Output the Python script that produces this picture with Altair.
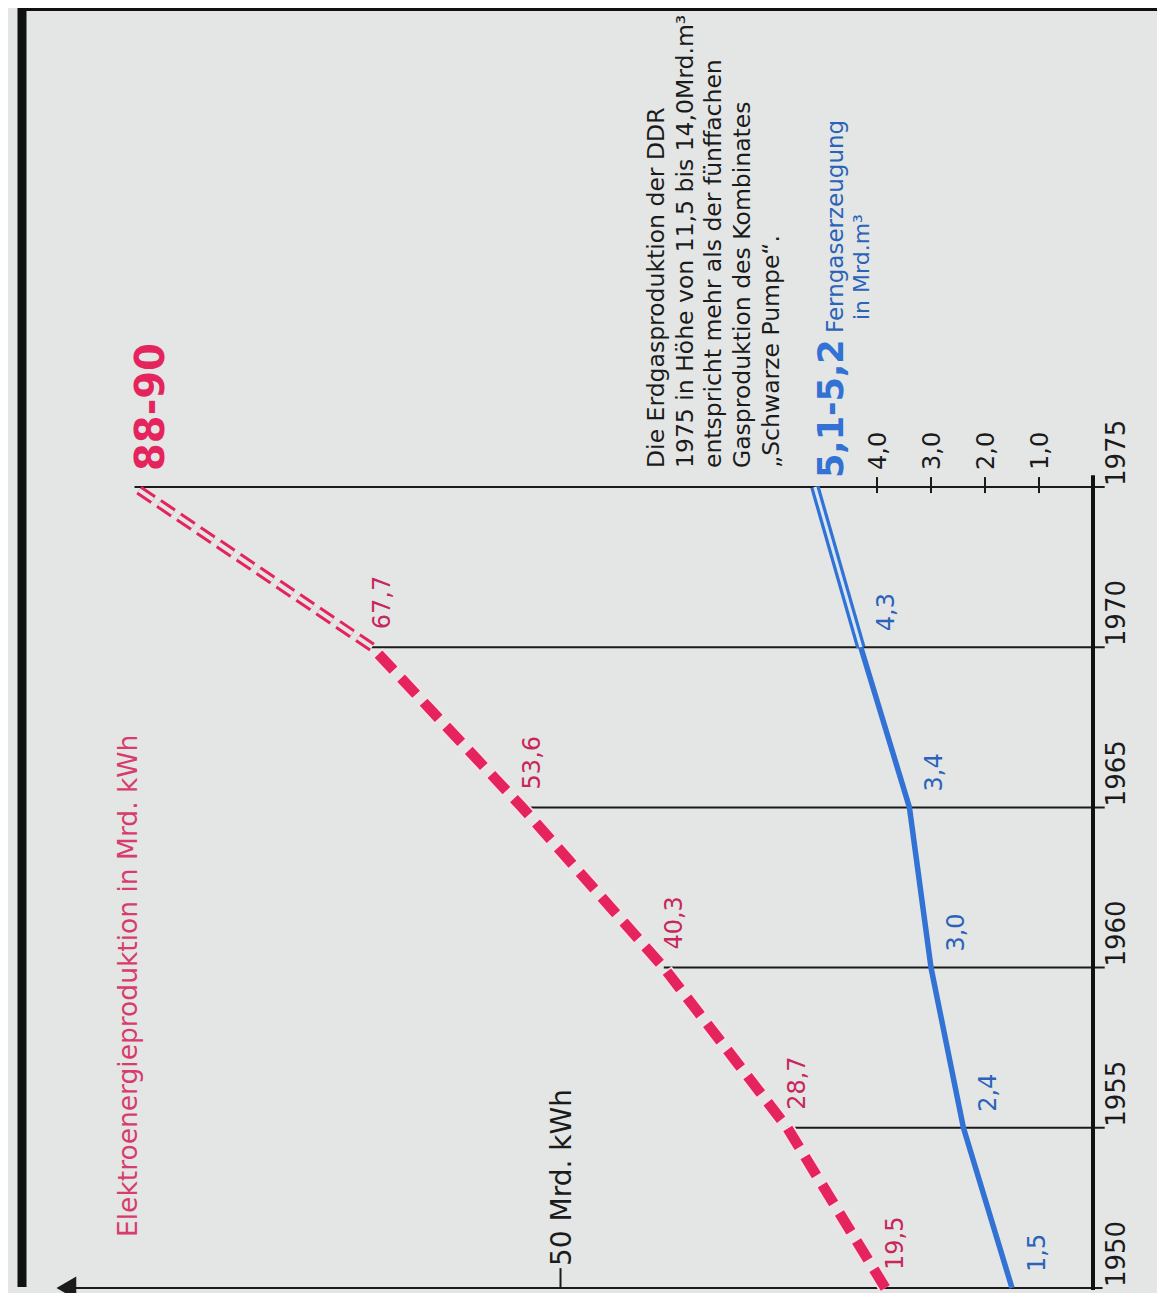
import altair as alt
import pandas as pd

# ---------------- data ----------------
years = [1950, 1955, 1960, 1965, 1970]
elec_values = [19.5, 28.7, 40.3, 53.6, 67.7]
elec_labels = ["19,5", "28,7", "40,3", "53,6", "67,7"]
plan_year = 1975
elec_plan = [88, 90]
elec_plan_label = "88-90"
gas_values = [1.5, 2.4, 3.0, 3.4, 4.3]
gas_labels = ["1,5", "2,4", "3,0", "3,4", "4,3"]
gas_plan = [5.1, 5.2]
gas_plan_label = "5,1-5,2"
gas_ticks = [1.0, 2.0, 3.0, 4.0]
gas_tick_labels = ["1,0", "2,0", "3,0", "4,0"]
year_ticks = [1950, 1955, 1960, 1965, 1970, 1975]
year_labels = ["1950", "1955", "1960", "1965", "1970", "1975"]
elec_tick = [50]
elec_tick_label = ["50 Mrd. kWh"]
title_text = "Elektroenergieproduktion in Mrd. kWh"
gas_title = ["Ferngaserzeugung", "in Mrd.m³"]
note_lines = [
    "Die Erdgasproduktion der DDR",
    "1975 in Höhe von 11,5 bis 14,0Mrd.m³",
    "entspricht mehr als der fünffachen",
    "Gasproduktion des Kombinates",
    "„Schwarze Pumpe“.",
]

# ---------------- layout / style ----------------
W, H = 1149, 1285
BG = "#e3e6e5"
RED = "#e5245e"
RED_TXT = "#c9265c"
BLUE = "#3272d4"
BLUE_TXT = "#2a63b9"
INK = "#1b1b1b"
FONT = "DejaVu Sans"
AXIS_END = 96.4  # end of the value axis (arrow)

yscale = alt.Scale(domain=[1949.844, 1989.95], nice=False, zero=False)
escale = alt.Scale(domain=[-6.01, 101.88], reverse=True, nice=False, zero=False)
gscale = alt.Scale(domain=[-1.185, 20.093], reverse=True, nice=False, zero=False)

elec_plan_draw = max(elec_plan)
gas_plan_draw = sum(gas_plan) / len(gas_plan)

df_elec = pd.DataFrame({"year": years, "v": elec_values, "label": elec_labels})
df_elec_proj = pd.DataFrame({"year": [years[-1], plan_year],
                             "v": [elec_values[-1], elec_plan_draw]})
df_gas = pd.DataFrame({"year": years, "v": gas_values, "label": gas_labels})
df_gas_proj = pd.DataFrame({"year": [years[-1], plan_year],
                            "v": [gas_values[-1], gas_plan_draw]})
df_grid = pd.DataFrame({"year": year_ticks[1:],
                        "end": elec_values[1:] + [elec_plan_draw]})
df_years = pd.DataFrame({"year": year_ticks, "label": year_labels})
df_gt = pd.DataFrame({"v": gas_ticks, "label": gas_tick_labels})
df_one = pd.DataFrame({"k": [0]})


def EX(field, **kw):
    return alt.X(field, scale=escale, axis=None, **kw)


def GX(field, **kw):
    return alt.X(field, scale=gscale, axis=None, **kw)


def YY(field, **kw):
    return alt.Y(field, scale=yscale, axis=None, **kw)


layers = []

# frame
layers.append(alt.Chart(df_one).mark_rule(color="#111", strokeWidth=9).encode(
    x=alt.value(14), y=alt.value(-8), y2=alt.value(1279)))
layers.append(alt.Chart(df_one).mark_rule(color="#111", strokeWidth=6).encode(
    x=alt.value(10), x2=alt.value(W), y=alt.value(0)))

# horizontal year lines (from axis to the red point)
layers.append(alt.Chart(df_grid).mark_rule(color=INK, strokeWidth=2).encode(
    x=alt.X("end:Q", scale=escale, axis=None),
    x2=alt.X2(datum=-1.1),
    y=YY("year:Q")))
# base value axis (1950 line) with arrow
layers.append(alt.Chart(df_one).mark_rule(color=INK, strokeWidth=2).encode(
    x=alt.XDatum(-0.9, scale=escale, axis=None),
    x2=alt.X2Datum(AXIS_END),
    y=alt.YDatum(year_ticks[0], scale=yscale, axis=None)))
layers.append(alt.Chart(df_one).mark_point(shape="triangle-left", filled=True,
                                           size=520, color=INK, opacity=1).encode(
    x=alt.XDatum(AXIS_END, scale=escale, axis=None),
    y=alt.YDatum(year_ticks[0], scale=yscale, axis=None)))
# 50 tick
layers.append(alt.Chart(pd.DataFrame({"v": elec_tick, "label": elec_tick_label}))
              .mark_rule(color=INK, strokeWidth=2).encode(
    x=EX("v:Q"), y=alt.YDatum(1950, scale=yscale, axis=None), y2=alt.Y2Datum(1950.62)))
layers.append(alt.Chart(pd.DataFrame({"v": elec_tick, "label": elec_tick_label}))
              .mark_text(angle=270, align="left", baseline="middle", dx=22, dy=2,
                         fontSize=28, font=FONT, color=INK).encode(
    x=EX("v:Q"), y=alt.YDatum(1950, scale=yscale, axis=None), text="label:N"))

# vertical year axis
layers.append(alt.Chart(df_one).mark_rule(color="#111", strokeWidth=4).encode(
    x=alt.XDatum(0, scale=escale, axis=None),
    y=alt.YDatum(1949.94, scale=yscale, axis=None), y2=alt.Y2Datum(1975.37)))
layers.append(alt.Chart(df_years).mark_text(angle=270, align="left", baseline="middle",
                                            dx=1, dy=24, fontSize=26, font=FONT,
                                            color=INK).encode(
    x=alt.XDatum(0, scale=escale, axis=None), y=YY("year:Q"), text="label:N"))

# gas scale ticks on the 1975 line
layers.append(alt.Chart(df_gt).mark_rule(color=INK, strokeWidth=2).encode(
    x=GX("v:Q"), y=alt.YDatum(1974.81, scale=yscale, axis=None), y2=alt.Y2Datum(1975.31)))
layers.append(alt.Chart(df_gt).mark_text(angle=270, align="left", baseline="middle",
                                         dx=17, dy=2, fontSize=24, font=FONT,
                                         color=INK).encode(
    x=GX("v:Q"), y=alt.YDatum(1975, scale=yscale, axis=None), text="label:N"))

# red electricity line (thick dashes with pale outline)
layers.append(alt.Chart(df_elec).mark_line(strokeDash=[25, 8], strokeDashOffset=1.5,
                                           strokeWidth=14, strokeCap="butt",
                                           color="#f5e2e9").encode(
    x=EX("v:Q"), y=YY("year:Q"), order="year:Q"))
layers.append(alt.Chart(df_elec).mark_line(strokeDash=[22, 11], strokeWidth=10.5,
                                           strokeCap="butt", color=RED).encode(
    x=EX("v:Q"), y=YY("year:Q"), order="year:Q"))
# red projection (double dashed)
layers.append(alt.Chart(df_elec_proj).mark_line(strokeDash=[17, 7], strokeWidth=10,
                                                strokeCap="butt", color=RED).encode(
    x=EX("v:Q"), y=YY("year:Q"), order="year:Q"))
layers.append(alt.Chart(df_elec_proj).mark_line(strokeDash=[17, 7], strokeWidth=4,
                                                strokeCap="butt", color=BG).encode(
    x=EX("v:Q"), y=YY("year:Q"), order="year:Q"))
layers.append(alt.Chart(df_elec).mark_text(angle=270, align="left", baseline="middle",
                                           dx=18, dy=11, fontSize=24, font=FONT,
                                           color=RED_TXT).encode(
    x=EX("v:Q"), y=YY("year:Q"), text="label:N"))
layers.append(alt.Chart(pd.DataFrame({"year": [plan_year], "v": [elec_plan_draw],
                                      "label": [elec_plan_label]}))
              .mark_text(angle=270, align="left", baseline="alphabetic", dx=16, dy=29,
                         fontSize=40, fontWeight="bold", font=FONT, color=RED).encode(
    x=EX("v:Q"), y=YY("year:Q"), text="label:N"))
# title
layers.append(alt.Chart(pd.DataFrame({"label": [title_text]}))
              .mark_text(angle=270, align="left", baseline="middle", dx=51, dy=63,
                         fontSize=26.5, font=FONT, color="#d83c6c").encode(
    x=alt.XDatum(AXIS_END, scale=escale, axis=None),
    y=alt.YDatum(1950, scale=yscale, axis=None), text="label:N"))

# blue gas line
layers.append(alt.Chart(df_gas).mark_line(strokeWidth=5.5, color=BLUE,
                                          strokeJoin="round").encode(
    x=GX("v:Q"), y=YY("year:Q"), order="year:Q"))
layers.append(alt.Chart(df_gas_proj).mark_line(strokeWidth=9.5, color=BLUE).encode(
    x=GX("v:Q"), y=YY("year:Q"), order="year:Q"))
layers.append(alt.Chart(df_gas_proj).mark_line(strokeWidth=3, color="#d9e6f2").encode(
    x=GX("v:Q"), y=YY("year:Q"), order="year:Q"))
layers.append(alt.Chart(df_gas).mark_text(angle=270, align="left", baseline="middle",
                                          dx=16, dy=26, fontSize=24, font=FONT,
                                          color=BLUE_TXT).encode(
    x=GX("v:Q"), y=YY("year:Q"), text="label:N"))
df_gp = pd.DataFrame({"year": [plan_year], "v": [gas_plan_draw],
                      "label": [gas_plan_label], "t1": [gas_title[0]],
                      "t2": [gas_title[1]]})
layers.append(alt.Chart(df_gp).mark_text(angle=270, align="left", baseline="alphabetic",
                                         dx=9, dy=28, fontSize=35, fontWeight="bold",
                                         font=FONT, color=BLUE).encode(
    x=GX("v:Q"), y=YY("year:Q"), text="label:N"))
layers.append(alt.Chart(df_gp).mark_text(angle=270, align="left", baseline="alphabetic",
                                         dx=154, dy=28, fontSize=23, font=FONT,
                                         color=BLUE_TXT).encode(
    x=GX("v:Q"), y=YY("year:Q"), text="t1:N"))
layers.append(alt.Chart(df_gp).mark_text(angle=270, align="left", baseline="alphabetic",
                                         dx=167, dy=54, fontSize=22, font=FONT,
                                         color=BLUE_TXT).encode(
    x=GX("v:Q"), y=YY("year:Q"), text="t2:N"))

# note
layers.append(alt.Chart(df_gp).mark_text(angle=270, align="left", baseline="top",
                                         dx=19, dy=-170, fontSize=23.5, lineHeight=28.7,
                                         font=FONT, color=INK, text=note_lines).encode(
    x=GX("v:Q"), y=YY("year:Q")))

chart = (
    alt.layer(*layers)
    .resolve_scale(x="independent")
    .properties(width=W, height=H, padding=0, autosize=alt.AutoSizeParams(type="none"),
                background=BG)
    .configure_view(stroke=None)
)

chart.save("out.html", embed_options={"renderer": "svg", "actions": False})
